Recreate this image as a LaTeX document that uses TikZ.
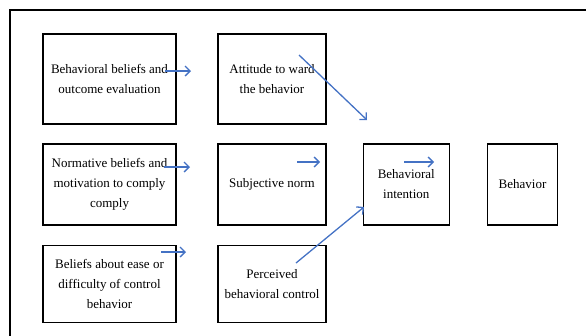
\documentclass[tikz,border=0pt]{standalone}
\usepackage{fontspec}
\setmainfont{Liberation Serif}
\usetikzlibrary{arrows.meta}
\definecolor{arrowblue}{RGB}{68,114,196}
\tikzstyle{box} = [rectangle, draw=black, line width=1.3pt, align=center, inner sep=0pt, font=\fontsize{13}{20}\selectfont]
\tikzstyle{arrow} = [arrowblue, line width=1.3pt, -{Straight Barb[length=5pt,width=10pt]}]

\begin{document}
\begin{tikzpicture}[x=1pt,y=-1pt]
\useasboundingbox (0,0) rectangle (586,335);
\draw[line width=1.5pt] (586,10)--(10,10)--(10,336);

% boxes
\node[box, minimum width=133pt, minimum height=90pt] (belief) at (109.5,79) {Behavioral beliefs and\\outcome evaluation};
\node[box, minimum width=108pt, minimum height=90pt] (attitude) at (272,79) {Attitude to ward\\the behavior};
\node[box, minimum width=133pt, minimum height=81pt] (normative) at (109.5,184.5) {Normative beliefs and\\motivation to comply\\comply};
\node[box, minimum width=108pt, minimum height=81pt] (norm) at (272,184.5) {Subjective norm};
\node[box, minimum width=86pt, minimum height=81pt] (intention) at (406.3,184.5) {Behavioral\\intention};
\node[box, minimum width=70pt, minimum height=81pt] (behavior) at (522.5,184.5) {Behavior};
\node[box, minimum width=133pt, minimum height=77pt] (ease) at (109.5,284) {Beliefs about ease or\\difficulty of control\\behavior};
\node[box, minimum width=108pt, minimum height=77pt] (control) at (272,284) {Perceived\\behavioral control};

% arrow ends
\coordinate (belief-s) at (165,71);
\coordinate (belief-e) at (191,71);
\coordinate (normative-s) at (164,167);
\coordinate (normative-e) at (190,167);
\coordinate (ease-s) at (161,252);
\coordinate (ease-e) at (186,252);
\coordinate (attitude-s) at (299,55);
\coordinate (attitude-e) at (367,120);
\coordinate (norm-s) at (297,162);
\coordinate (norm-e) at (320,162);
\coordinate (control-s) at (296,263);
\coordinate (control-e) at (364,207);
\coordinate (intention-s) at (404,162);
\coordinate (intention-e) at (434,162);

\draw[arrow] (belief-s)--(belief-e);
\draw[arrow] (normative-s)--(normative-e);
\draw[arrow] (ease-s)--(ease-e);
\draw[arrow] (attitude-s)--(attitude-e);
\draw[arrow] (norm-s)--(norm-e);
\draw[arrow] (control-s)--(control-e);
\draw[arrow] (intention-s)--(intention-e);
\end{tikzpicture}
\end{document}
